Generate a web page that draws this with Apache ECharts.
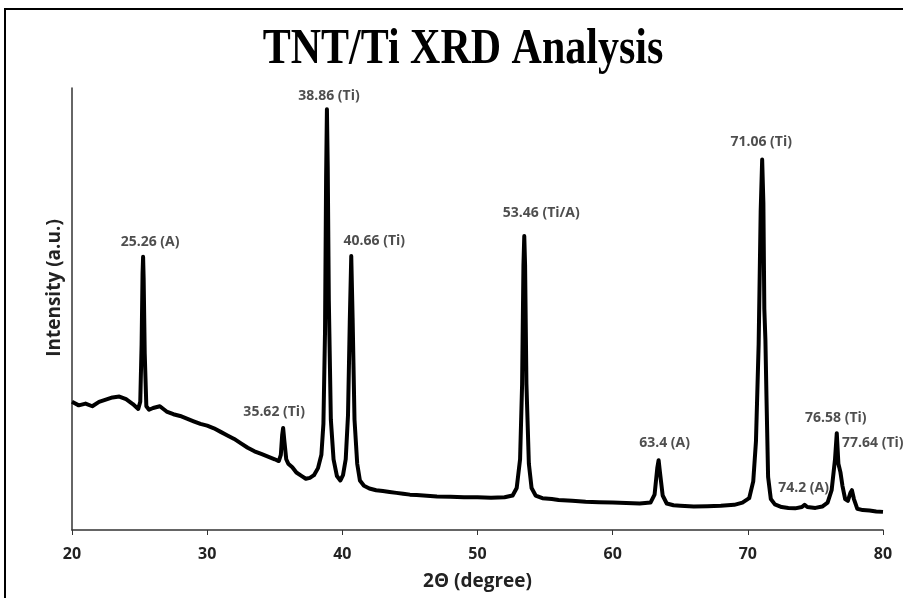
<!DOCTYPE html>
<html>
<head>
<meta charset="utf-8">
<script src="https://cdn.jsdelivr.net/npm/echarts@6/dist/echarts.min.js"></script>
<style>
  html, body { margin: 0; padding: 0; background: #fff; }
  #xrdDiv { width: 903px; height: 598px; }
</style>
</head>
<body>
<div id="xrdDiv"></div>
<script type="text/javascript">
    // 2θ positions (degree) and intensity (a.u.)
    let twoTheta = [
        20.0, 20.5, 21.0, 21.5, 22.0, 22.5, 23.0, 23.5, 24.0, 24.5, 24.9,
        25.05, 25.15, 25.22, 25.26, 25.30, 25.38, 25.5, 25.7, 26.0, 26.5,
        27.0, 27.5, 28.0, 28.5, 29.0, 29.5, 30.0, 30.5, 31.0, 31.5, 32.0,
        32.5, 33.0, 33.5, 34.0, 34.5, 35.0, 35.3, 35.45, 35.55, 35.62, 35.7,
        35.85, 36.0, 36.3, 36.6, 37.0, 37.3, 37.6, 37.9, 38.2, 38.45, 38.6,
        38.72, 38.8, 38.86, 38.92, 39.0, 39.15, 39.35, 39.6, 39.85, 40.05,
        40.25, 40.42, 40.55, 40.66, 40.76, 40.9, 41.1, 41.3, 41.6, 42.0,
        42.5, 43.0, 43.5, 44.0, 44.5, 45.0, 45.5, 46.0, 47.0, 48.0, 49.0,
        50.0, 51.0, 52.0, 52.6, 52.9, 53.15, 53.3, 53.4, 53.46, 53.52, 53.62,
        53.8, 54.0, 54.3, 54.8, 55.5, 56.0, 57.0, 58.0, 59.0, 60.0, 61.0,
        62.0, 62.8, 63.1, 63.3, 63.4, 63.5, 63.7, 64.0, 64.5, 65.0, 66.0,
        67.0, 68.0, 69.0, 69.6, 70.1, 70.4, 70.6, 70.8, 70.95, 71.06, 71.15,
        71.22, 71.3, 71.38, 71.5, 71.7, 72.0, 72.5, 73.0, 73.5, 74.0, 74.2,
        74.4, 75.0, 75.5, 75.9, 76.2, 76.45, 76.58, 76.7, 76.85, 77.0, 77.2,
        77.4, 77.6, 77.7, 77.85, 78.1, 78.5, 79.0, 79.5, 80.0
    ];
    let intensity = [
        290, 282, 286, 280, 290, 295, 300, 302, 296, 285, 274,
        290, 420, 580, 618, 570, 400, 280, 272, 276, 280,
        268, 262, 258, 252, 246, 240, 236, 230, 222, 214, 206,
        196, 186, 178, 172, 166, 160, 156, 170, 215, 231, 205,
        160, 150, 142, 130, 122, 116, 118, 124, 140, 170, 240,
        450, 800, 952, 820, 520, 250, 160, 122, 112, 124,
        160, 260, 470, 620, 480, 250, 150, 112, 100, 94,
        90, 88, 86, 84, 82, 80, 79, 78, 76, 75, 74,
        74, 73, 74, 78, 95, 160, 330, 600, 665, 600, 330,
        150, 95, 78, 72, 70, 68, 66, 64, 63, 62, 61,
        60, 62, 80, 140, 158, 130, 78, 60, 56, 55, 53,
        54, 55, 57, 62, 72, 110, 200, 420, 720, 838, 740,
        500, 430, 300, 120, 70, 58, 52, 50, 49, 52, 57,
        52, 50, 53, 62, 90, 160, 219, 150, 131, 100, 70,
        66, 85, 90, 70, 48, 45, 44, 42, 41
    ];

    // labelled reflections
    let peakPos = [25.26, 35.62, 38.86, 40.66, 53.46, 63.4, 71.06, 74.2, 76.58, 77.64];
    let peakTop = [618, 231, 952, 620, 665, 158, 838, 57, 219, 131];
    let peakText = ['25.26 (A)', '35.62 (Ti)', '38.86 (Ti)', '40.66 (Ti)', '53.46 (Ti/A)',
                    '63.4 (A)', '71.06 (Ti)', '74.2 (A)', '76.58 (Ti)', '77.64 (Ti)'];

    let xTicks = [20, 30, 40, 50, 60, 70, 80];

    let myChart = echarts.init(document.getElementById('xrdDiv'));

    let pattern = twoTheta.map(function (t, i) { return [t, intensity[i]]; });

    // label centre offsets (px) from the peak top; last one is left aligned
    let labelShift = [[7, -15], [-9, -16], [2, -13], [23, -15], [17, -23],
                      [6, -17], [-1, -18], [-1, -17], [-1, -15], [-9, -29]];
    let peakData = peakPos.map(function (p, i) {
        let lab = { offset: labelShift[i] };
        if (i === peakPos.length - 1) lab.align = 'left';
        return { value: [p, peakTop[i]], label: lab };
    });

    let labelFont = '"Open Sans", "Noto Sans", sans-serif';

    let option = {
        backgroundColor: '#fff',
        animation: false,
        graphic: [
            {
                type: 'rect',
                shape: { x: 5, y: 9, width: 910, height: 600 },
                style: { fill: 'none', stroke: '#000', lineWidth: 2 }
            },
            {
                type: 'text',
                x: 463,
                y: 50,
                scaleY: 1.2,
                style: {
                    text: 'TNT/Ti XRD Analysis',
                    font: 'bold 42px "Liberation Serif", "Times New Roman", serif',
                    fill: '#000',
                    textAlign: 'center',
                    textVerticalAlign: 'middle'
                }
            }
        ],
        grid: { left: 72, right: 20, top: 88, bottom: 68 },
        xAxis: {
            type: 'value',
            min: xTicks[0],
            max: xTicks[xTicks.length - 1],
            interval: 10,
            name: '2Θ (degree)',
            nameLocation: 'middle',
            nameGap: 42,
            nameTextStyle: { fontFamily: labelFont, fontWeight: 'bold', fontSize: 19, color: '#222' },
            axisLine: { lineStyle: { color: '#333', width: 1.5 } },
            axisTick: { show: true, length: 5, lineStyle: { color: '#333' } },
            axisLabel: { fontFamily: labelFont, fontWeight: 'bold', fontSize: 16, color: '#222', margin: 16 },
            splitLine: { show: false }
        },
        yAxis: {
            type: 'value',
            min: 0,
            max: 1000,
            name: 'Intensity (a.u.)',
            nameLocation: 'middle',
            nameRotate: 90,
            nameGap: 8,
            nameTextStyle: {
                fontFamily: labelFont, fontWeight: 'bold', fontSize: 19, color: '#222',
                padding: [0, 0, 0, 42]
            },
            axisLine: { show: true, lineStyle: { color: '#333', width: 1.5 } },
            axisTick: { show: false },
            axisLabel: { show: false },
            splitLine: { show: false }
        },
        series: [
            {
                name: 'XRD',
                type: 'line',
                data: pattern,
                showSymbol: false,
                lineStyle: { color: '#000', width: 4, join: 'round' },
                silent: true
            },
            {
                name: 'peaks',
                type: 'scatter',
                data: peakData,
                symbolSize: 0,
                silent: true,
                z: 5,
                label: {
                    show: true,
                    position: 'inside',
                    verticalAlign: 'middle',
                    formatter: function (p) { return peakText[p.dataIndex]; },
                    fontFamily: labelFont,
                    fontWeight: 'bold',
                    fontSize: 14,
                    color: '#222'
                }
            }
        ]
    };
    myChart.setOption(option);
</script>
</body>
</html>
